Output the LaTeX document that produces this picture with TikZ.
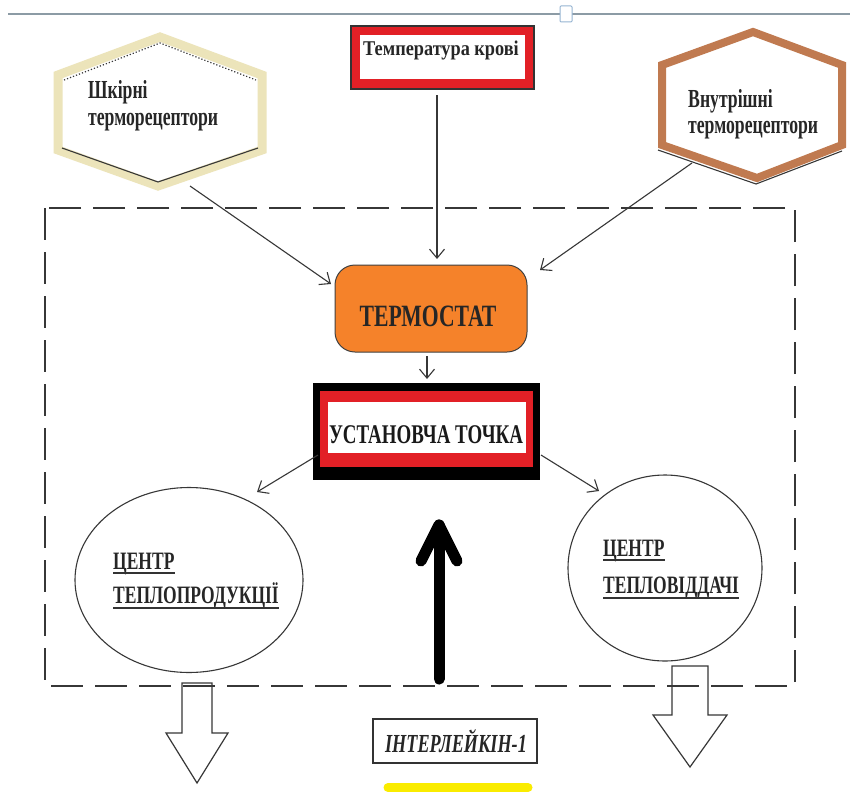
\documentclass[tikz,border=0pt]{standalone}
\usepackage{fontspec}
\setmainfont{Liberation Serif}
\newfontfamily\fhex[FakeStretch=0.68]{Liberation Serif}
\newfontfamily\ftop[FakeStretch=0.87]{Liberation Serif}
\newfontfamily\fcond[FakeStretch=0.7]{Liberation Serif}
\usetikzlibrary{arrows.meta,shapes.geometric}
\definecolor{beigeb}{RGB}{236,228,186}
\definecolor{brownb}{RGB}{192,122,80}
\definecolor{redb}{RGB}{226,32,38}
\definecolor{orangeb}{RGB}{245,130,42}
\definecolor{lineg}{RGB}{55,55,55}
\definecolor{topg}{RGB}{140,155,165}
\definecolor{markb}{RGB}{150,180,210}
\definecolor{yelb}{RGB}{250,236,0}
\begin{document}
\begin{tikzpicture}[x=1pt,y=-1pt,
  thinarrow/.style={draw=lineg, line width=1.1, -{Straight Barb[length=9pt,width=15pt]}},
  hextext/.style={font=\fhex\bfseries\fontsize{26}{26}\selectfont, align=left, anchor=north west, inner sep=0, text=black!85},
  captext/.style={font=\fcond\bfseries\fontsize{25}{28}\selectfont, anchor=base west, inner sep=0, text=black!85},
  hollow/.style={draw=lineg, line width=1.2, line join=miter},
  uline/.style={draw=black!80, line width=1.3}]
\useasboundingbox (0,0) rectangle (850,800);
\fill[white] (0,0) rectangle (850,800);
% top ruler line
\draw[topg, line width=2] (8,14) -- (850,14);
\draw[markb, fill=white, line width=1, rounded corners=1] (560,6) rectangle (572,22);

% dashed frame
\draw[lineg, line width=1.5, dash pattern=on 32 off 12] (45,208) rectangle (795,686);

% left hexagon
\draw[beigeb, line width=9, line join=miter] (160,37) -- (58,75) -- (58,150) -- (158,186) -- (262,150) -- (262,75) -- cycle;
\draw[lineg, line width=1.2, dotted] (64,80) -- (160,43) -- (256,80);
\draw[lineg, line width=1.1] (62,148) -- (158,182) -- (258,148);
\node[hextext] (skin) at (88,80) {Шкірні\\[1pt]терморецептори};

% right hexagon
\draw[brownb, line width=8, line join=miter] (753,32) -- (662,65) -- (662,145) -- (757,178) -- (842,145) -- (842,65) -- cycle;
\draw[lineg, line width=1.1] (658,150) -- (756,184) -- (842,151);
\node[hextext] (inner) at (688,89) {Внутрішні\\терморецептори};

% blood temperature box
\fill[black!80] (350,25) rectangle (535,90);
\fill[redb] (352,27) rectangle (533,88);
\fill[white] (360,35) rectangle (525,79);
\node[minimum width=185, minimum height=65, inner sep=0] (blood) at (442.5,57.5) {};
\node[font=\ftop\bfseries\fontsize{21}{24}\selectfont, anchor=base, inner sep=0, text=black!85] (bloodt) at (441,56) {Температура крові};

% thermostat
\node[draw=black!75, fill=orangeb, line width=1, rounded corners=20, minimum width=192, minimum height=87, inner sep=0] (thermo) at (431,308.5) {};
\node[font=\fcond\bfseries\fontsize{31}{32}\selectfont, anchor=base, inner sep=0, text=black!85] (thermot) at (428,326) {ТЕРМОСТАТ};

% set point box
\fill[black] (313,383) rectangle (540,480);
\fill[redb] (320,391) rectangle (533,467);
\fill[white] (328,402) rectangle (526,453);
\node[minimum width=227, minimum height=97, inner sep=0] (setpt) at (426.5,431.5) {};
\node[font=\fcond\bfseries\fontsize{27}{30}\selectfont, anchor=base, inner sep=0, text=black!90] (setptt) at (426,443) {УСТАНОВЧА ТОЧКА};

% ellipses
\node[draw=lineg, ellipse, line width=1.1, minimum width=228, minimum height=185, inner sep=0] (prod) at (189,580) {};
\node[captext] (prodA) at (113,569) {ЦЕНТР};
\node[captext] (prodB) at (113,603) {ТЕПЛОПРОДУКЦІЇ};
\draw[uline] ([yshift=-4pt]prodA.base west) -- ([yshift=-4pt]prodA.base east);
\draw[uline] ([yshift=-5pt]prodB.base west) -- ([yshift=-5pt]prodB.base east);

\node[draw=lineg, ellipse, line width=1.1, minimum width=194, minimum height=186, inner sep=0] (loss) at (665,568) {};
\node[captext] (lossA) at (603,556) {ЦЕНТР};
\node[captext] (lossB) at (603,593) {ТЕПЛОВІДДАЧІ};
\draw[uline] ([yshift=-4pt]lossA.base west) -- ([yshift=-4pt]lossA.base east);
\draw[uline] ([yshift=-5pt]lossB.base west) -- ([yshift=-5pt]lossB.base east);

% thin arrows
\coordinate (skinout) at (190,186);
\coordinate (thermoinL) at (331,284);
\coordinate (bloodout) at (437,95);
\coordinate (thermoinT) at (437,259);
\coordinate (innerout) at (692,163);
\coordinate (thermoinR) at (540,270);
\coordinate (thermoout) at (427,356);
\coordinate (setin) at (427,379);
\coordinate (setoutL) at (318,455);
\coordinate (prodin) at (257,492);
\coordinate (setoutR) at (541,455);
\coordinate (lossin) at (599,491);
\draw[thinarrow] (skinout) -- (thermoinL);
\draw[thinarrow] (bloodout) -- (thermoinT);
\draw[thinarrow] (innerout) -- (thermoinR);
\draw[thinarrow] (thermoout) -- (setin);
\draw[thinarrow] (setoutL) -- (prodin);
\draw[thinarrow] (setoutR) -- (lossin);

% big black arrow
\coordinate (bigfoot) at (439,679);
\coordinate (bigtip) at (439,525);
\draw[black, line width=11, line cap=round] (bigfoot) -- (bigtip);
\draw[black, line width=11, line cap=round, line join=round] (421,561) -- (bigtip) -- (457,561);

% hollow down arrows
\draw[hollow] (182,683) -- (212,683) -- (212,733) -- (228,733) -- (197,783) -- (166,733) -- (182,733) -- cycle;
\draw[hollow] (672,666) -- (708,666) -- (708,715) -- (727,715) -- (690,767) -- (653,715) -- (672,715) -- cycle;

% interleukin box
\node[draw=black!80, line width=1.3, minimum width=164, minimum height=44, inner sep=0] (il) at (455,741) {};
\node[font=\fcond\bfseries\itshape\fontsize{26}{28}\selectfont, anchor=base, inner sep=0, text=black!85] (ilt) at (456,752) {ІНТЕРЛЕЙКІН-1};
\draw[yelb, line width=9, line cap=round] (388,787.5) -- (528,787.5);
\end{tikzpicture}
\end{document}
